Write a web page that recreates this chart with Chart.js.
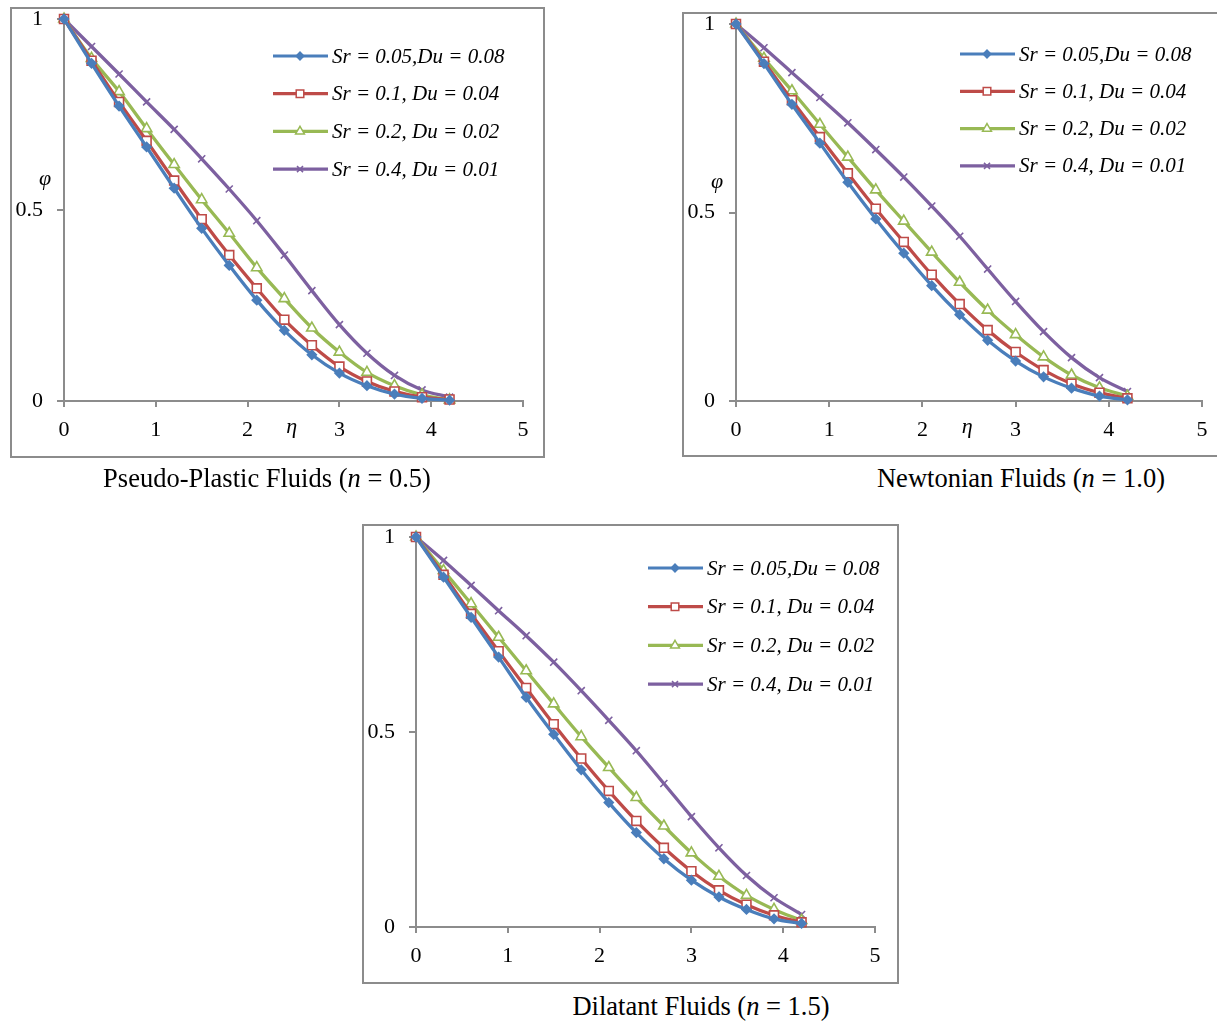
<!DOCTYPE html>
<html>
<head>
<meta charset="utf-8">
<script src="https://cdn.jsdelivr.net/npm/chart.js@4.4.1/dist/chart.umd.min.js"></script>
<style>
  body { margin: 0; background: #fff; width: 1217px; height: 1023px; overflow: hidden; position: relative; }
  .box { position: absolute; }
  .box canvas { position: absolute; left: 0; top: 0; }
  .frame { position: absolute; left: 0; top: 0; right: 0; bottom: 0; border: 2px solid #8c8c8c; box-sizing: border-box; pointer-events: none; }
  .caption { position: absolute; font-family: "Liberation Serif", serif; font-size: 26.5px; color: #000; white-space: nowrap; transform: translate(-50%, -50%); }
</style>
</head>
<body>

<div class="box" id="box1"><canvas id="pseudoChart"></canvas><div class="frame"></div></div>
<div class="box" id="box2"><canvas id="newtonChart"></canvas><div class="frame"></div></div>
<div class="box" id="box3"><canvas id="dilatantChart"></canvas><div class="frame"></div></div>

<div class="caption" style="left:267px; top:478px;">Pseudo-Plastic Fluids (<i>n</i> = 0.5)</div>
<div class="caption" style="left:1021px; top:478px;">Newtonian Fluids (<i>n</i> = 1.0)</div>
<div class="caption" style="left:701px; top:1006px;">Dilatant Fluids (<i>n</i> = 1.5)</div>

<script>
// данные
const eta = [0, 0.3, 0.6, 0.9, 1.2, 1.5, 1.8, 2.1, 2.4, 2.7, 3.0, 3.3, 3.6, 3.9, 4.2];
const seriesLabels = ['Sr = 0.05,Du = 0.08', 'Sr = 0.1, Du = 0.04', 'Sr = 0.2, Du = 0.02', 'Sr = 0.4, Du = 0.01'];
const xTicks = [0, 1, 2, 3, 4, 5];
const yTicks = [0, 0.5, 1];

// Pseudo-Plastic (n = 0.5)
const pseudoSr005 = [1, 0.884, 0.772, 0.665, 0.557, 0.452, 0.355, 0.264, 0.185, 0.121, 0.073, 0.040, 0.018, 0.007, 0.002];
const pseudoSr01  = [1, 0.891, 0.783, 0.681, 0.577, 0.476, 0.382, 0.295, 0.213, 0.146, 0.090, 0.051, 0.025, 0.010, 0.004];
const pseudoSr02  = [1, 0.897, 0.810, 0.713, 0.619, 0.527, 0.439, 0.349, 0.268, 0.191, 0.128, 0.075, 0.040, 0.016, 0.003];
const pseudoSr04  = [1, 0.928, 0.856, 0.783, 0.711, 0.634, 0.555, 0.472, 0.382, 0.289, 0.200, 0.125, 0.067, 0.029, 0.010];

// Newtonian (n = 1.0)
const newtonSr005 = [1, 0.895, 0.787, 0.684, 0.580, 0.483, 0.392, 0.306, 0.229, 0.161, 0.106, 0.064, 0.034, 0.013, 0.003];
const newtonSr01  = [1, 0.900, 0.798, 0.700, 0.604, 0.510, 0.422, 0.335, 0.257, 0.188, 0.130, 0.082, 0.046, 0.022, 0.007];
const newtonSr02  = [1, 0.909, 0.823, 0.734, 0.647, 0.560, 0.477, 0.395, 0.315, 0.241, 0.176, 0.117, 0.069, 0.035, 0.013];
const newtonSr04  = [1, 0.937, 0.871, 0.805, 0.738, 0.667, 0.594, 0.517, 0.437, 0.350, 0.264, 0.184, 0.115, 0.062, 0.025];

// Dilatant (n = 1.5)
const dilatSr005 = [1, 0.897, 0.794, 0.692, 0.589, 0.494, 0.403, 0.319, 0.242, 0.175, 0.120, 0.077, 0.045, 0.021, 0.009];
const dilatSr01  = [1, 0.903, 0.803, 0.707, 0.613, 0.520, 0.432, 0.349, 0.272, 0.203, 0.143, 0.094, 0.057, 0.030, 0.012];
const dilatSr02  = [1, 0.914, 0.829, 0.743, 0.657, 0.572, 0.488, 0.409, 0.332, 0.259, 0.190, 0.130, 0.081, 0.045, 0.017];
const dilatSr04  = [1, 0.940, 0.876, 0.811, 0.747, 0.679, 0.606, 0.530, 0.452, 0.368, 0.283, 0.203, 0.132, 0.075, 0.032];

// стили серий
const seriesStyle = [
    { color: '#4A7EBB', point: 'rectRot', radius: 4.5, fill: '#4A7EBB' },
    { color: '#BE4B48', point: 'rect', radius: 6.3, fill: '#ffffff' },
    { color: '#98B954', point: 'triangle', radius: 6, fill: '#ffffff' },
    { color: '#7D60A0', point: 'crossRot', radius: 5, fill: '#7D60A0' }
];

const SERIF = '"Liberation Serif", "Times New Roman", serif';
const AXIS = '#8c8c8c';

// легенда и подписи осей внутри области графика
const overlayPlugin = {
    id: 'overlay',
    afterDatasetsDraw(chart, args, opts) {
        const ctx = chart.ctx;
        const area = chart.chartArea;
        const xs = chart.scales.x, ys = chart.scales.y;
        ctx.save();
        ctx.fillStyle = '#000';
        ctx.textBaseline = 'middle';

        if (opts.axisTitles) {
            ctx.font = 'italic 22px ' + SERIF;
            ctx.textAlign = 'center';
            ctx.fillText('φ', area.left - 19, ys.getPixelForValue(0.58));
            ctx.fillText('η', xs.getPixelForValue(2.48), area.bottom + 26);
        }

        ctx.font = 'italic 21px ' + SERIF;
        ctx.textAlign = 'left';
        chart.data.datasets.forEach((ds, i) => {
            const y = opts.legendY + i * opts.legendStep;
            const x0 = opts.legendX;
            ctx.strokeStyle = ds.borderColor;
            ctx.lineWidth = 3.2;
            ctx.beginPath();
            ctx.moveTo(x0, y);
            ctx.lineTo(x0 + 55, y);
            ctx.stroke();
            ctx.fillStyle = ds.pointBackgroundColor;
            ctx.strokeStyle = ds.borderColor;
            ctx.lineWidth = 1.5;
            Chart.helpers.drawPoint(ctx, { pointStyle: ds.pointStyle, radius: ds.pointRadius * 0.85, borderWidth: 1.5, rotation: 0 }, x0 + 27, y);
            ctx.fillStyle = '#000';
            ctx.fillText(ds.label, x0 + 59, y + 1);
        });
        ctx.restore();
    }
};

function buildDatasets(seriesValues) {
    return seriesValues.map((values, i) => ({
        label: seriesLabels[i],
        data: eta.map((x, k) => ({ x: x, y: values[k] })),
        borderColor: seriesStyle[i].color,
        backgroundColor: seriesStyle[i].color,
        pointBackgroundColor: seriesStyle[i].fill,
        pointBorderColor: seriesStyle[i].color,
        pointStyle: seriesStyle[i].point,
        pointRadius: seriesStyle[i].radius,
        pointBorderWidth: 1.6,
        borderWidth: 3.3,
        tension: 0.35,
        clip: false
    }));
}

function makeChart(boxId, canvasId, box, area, seriesValues, overlay) {
    const el = document.getElementById(boxId);
    el.style.left = box[0] + 'px';
    el.style.top = box[1] + 'px';
    el.style.width = box[2] + 'px';
    el.style.height = box[3] + 'px';
    const canvas = document.getElementById(canvasId);
    canvas.width = box[2];
    canvas.height = box[3];

    return new Chart(canvas.getContext('2d'), {
        type: 'line',
        data: { datasets: buildDatasets(seriesValues) },
        plugins: [overlayPlugin],
        options: {
            responsive: false,
            animation: false,
            events: [],
            layout: {
                padding: { left: 0, top: area[1], right: box[2] - area[2], bottom: 0 }
            },
            plugins: {
                legend: { display: false },
                tooltip: { enabled: false },
                overlay: overlay
            },
            scales: {
                x: {
                    type: 'linear',
                    min: 0,
                    max: 5,
                    afterBuildTicks: s => { s.ticks = xTicks.map(v => ({ value: v })); },
                    afterFit: s => { s.height = box[3] - area[3]; s.paddingLeft = 0; s.paddingRight = 0; },
                    grid: { drawOnChartArea: false, drawTicks: true, tickLength: 6, color: AXIS, lineWidth: 2 },
                    border: { color: AXIS, width: 2 },
                    ticks: { color: '#000', font: { family: SERIF, size: 22 }, padding: 10, maxRotation: 0, callback: v => String(v) }
                },
                y: {
                    type: 'linear',
                    min: 0,
                    max: 1,
                    afterBuildTicks: s => { s.ticks = yTicks.map(v => ({ value: v })); },
                    afterFit: s => { s.width = area[0]; s.paddingTop = 0; s.paddingBottom = 0; },
                    grid: { drawOnChartArea: false, drawTicks: true, tickLength: 7, color: AXIS, lineWidth: 2 },
                    border: { color: AXIS, width: 2 },
                    ticks: { color: '#000', font: { family: SERIF, size: 22 }, padding: 14, callback: v => String(v) }
                }
            }
        }
    });
}

// box: [left, top, width, height] on page; area: [left, top, right, bottom] inside the box
makeChart('box1', 'pseudoChart', [10, 7, 535, 451], [54, 12, 513, 394],
    [pseudoSr005, pseudoSr01, pseudoSr02, pseudoSr04],
    { axisTitles: true, legendX: 263, legendY: 49, legendStep: 37.7 });

makeChart('box2', 'newtonChart', [682, 12, 545, 445], [54, 12, 520, 389],
    [newtonSr005, newtonSr01, newtonSr02, newtonSr04],
    { axisTitles: true, legendX: 278, legendY: 42, legendStep: 37.3 });

makeChart('box3', 'dilatantChart', [362, 524, 537, 460], [54, 13, 513, 403],
    [dilatSr005, dilatSr01, dilatSr02, dilatSr04],
    { axisTitles: false, legendX: 286, legendY: 44, legendStep: 38.7 });
</script>
</body>
</html>
